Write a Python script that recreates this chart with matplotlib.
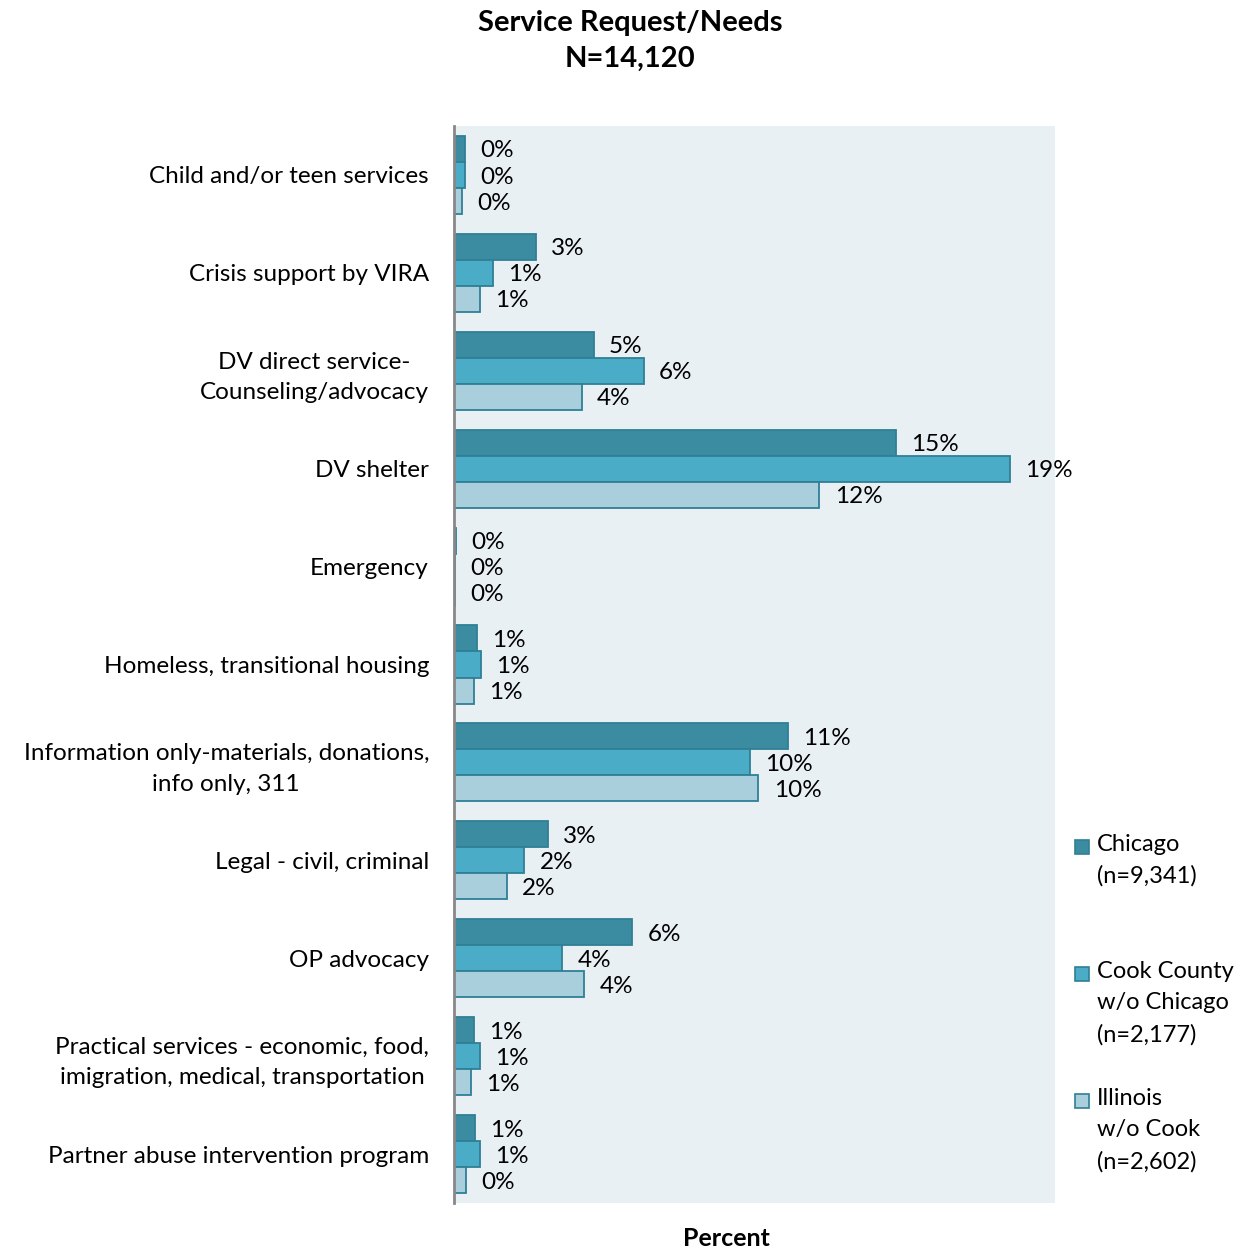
import matplotlib.pyplot as plt
from matplotlib.patches import Rectangle
import numpy as np

plt.rcParams['font.family'] = ['Lato', 'DejaVu Sans']

categories = ["Child and/or teen services",
              "Crisis support by VIRA",
              "DV direct service-\nCounseling/advocacy",
              "DV shelter",
              "Emergency",
              "Homeless, transitional housing",
              "Information only-materials, donations,\ninfo only, 311",
              "Legal - civil, criminal",
              "OP advocacy",
              "Practical services - economic, food,\nimigration, medical, transportation",
              "Partner abuse intervention program"]

chicago = [0.38, 2.8, 4.78, 15.1, 0.07, 0.79, 11.4, 3.2, 6.1, 0.68, 0.72]
cook = [0.38, 1.33, 6.49, 19.0, 0.03, 0.92, 10.1, 2.4, 3.7, 0.89, 0.89]
illinois = [0.27, 0.89, 4.37, 12.49, 0.03, 0.68, 10.4, 1.8, 4.45, 0.58, 0.41]

series_names = ["Chicago\n(n=9,341)", "Cook County\nw/o Chicago\n(n=2,177)", "Illinois\nw/o Cook\n(n=2,602)"]
colors = ["#3b8ba1", "#4aacc6", "#a9cfdd"]
edge = "#2f7f95"

fig = plt.figure(figsize=(12.46, 12.54), dpi=100)
ax = fig.add_axes([454/1246, 1-1203/1254, 601/1246, 1077/1254])
ax.set_facecolor("#e8f0f4")

y = np.arange(len(categories))
h = 0.266
for i, (vals, col) in enumerate(zip([chicago, cook, illinois], colors)):
    pos = y - h + i * h
    ax.barh(pos, vals, height=h, color=col, edgecolor=edge, linewidth=1.3)
    for p, v in zip(pos, vals):
        ax.annotate("%d%%" % round(v), (v, p), xytext=(11, -1.5), textcoords="offset points",
                    va="center", ha="left", fontsize=17.5)

ax.set_xlim(0, 20.54)
ax.set_ylim(len(categories) - 0.5, -0.5)
ax.set_yticks(y)
ax.set_yticklabels(categories, fontsize=17.5, multialignment="center", linespacing=1.55)
for lbl in ax.get_yticklabels():
    lbl.set_va("center_baseline")
ax.tick_params(axis="y", length=0, pad=18)
ax.set_xticks([])
for s in ["top", "right", "bottom"]:
    ax.spines[s].set_visible(False)
ax.spines["left"].set_color("#888888")
ax.spines["left"].set_linewidth(2)

fig.text(630/1246, 1-41/1254, "Service Request/Needs\nN=14,120", ha="center", va="center",
         fontsize=21, fontweight="bold", linespacing=1.43)
fig.text(726/1246, 1-1238/1254, "Percent", ha="center", va="center", fontsize=18, fontweight="bold")

# legend
leg_tops = [847, 974, 1101]
for name, col, ty in zip(series_names, colors, leg_tops):
    fig.patches.append(Rectangle((1075/1246, 1-(ty+7)/1254), 14/1246, 14/1254,
                                 transform=fig.transFigure, facecolor=col, edgecolor=edge, linewidth=1.2))
    fig.text(1097/1246, 1-(ty-13)/1254, name, ha="left", va="top", fontsize=17, linespacing=1.6)

fig.savefig("out.png", dpi=100)
